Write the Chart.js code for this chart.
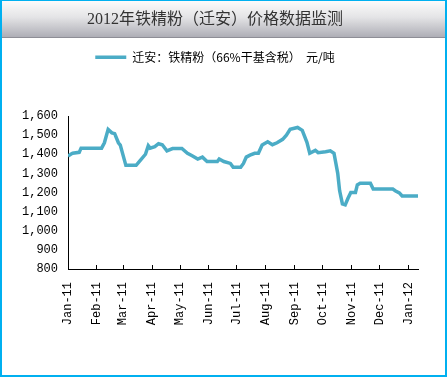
<!DOCTYPE html>
<html>
<head>
<meta charset="utf-8">
<script src="https://cdn.jsdelivr.net/npm/chart.js@4.4.0/dist/chart.umd.min.js"></script>
<style>
  html, body { margin: 0; padding: 0; background: #fff; }
  #frame {
    width: 447px;
    height: 377px;
    box-sizing: border-box;
    border-style: solid;
    border-color: #00b0f0;
    border-width: 1px 2px 2px 2px;
    background: #fff;
  }
  canvas { display: block; }
</style>
</head>
<body>
<div id="frame">
  <canvas id="chart" width="443" height="374"></canvas>
</div>
<script>
const titleText = '2012年铁精粉（迁安）价格数据监测';
const seriesLabel = '迁安：铁精粉（66%干基含税）  元/吨';

// price readings (date, yuan/ton)
const priceDates = [
  '2011-01-01', '2011-01-04', '2011-01-06', '2011-01-13', '2011-01-15', '2011-02-06',
  '2011-02-09', '2011-02-13', '2011-02-17', '2011-02-20', '2011-02-24', '2011-02-26',
  '2011-03-04', '2011-03-15', '2011-03-19', '2011-03-25', '2011-03-28', '2011-03-30',
  '2011-04-04', '2011-04-08', '2011-04-12', '2011-04-17', '2011-04-23', '2011-05-03',
  '2011-05-09', '2011-05-14', '2011-05-20', '2011-05-25', '2011-05-30', '2011-06-10',
  '2011-06-12', '2011-06-17', '2011-06-24', '2011-06-27', '2011-07-05', '2011-07-08',
  '2011-07-11', '2011-07-15', '2011-07-20', '2011-07-24', '2011-07-28', '2011-08-03',
  '2011-08-08', '2011-08-13', '2011-08-19', '2011-08-23', '2011-08-27', '2011-09-04',
  '2011-09-09', '2011-09-14', '2011-09-17', '2011-09-23', '2011-09-26', '2011-10-04',
  '2011-10-09', '2011-10-13', '2011-10-17', '2011-10-19', '2011-10-22', '2011-10-25',
  '2011-10-28', '2011-10-31', '2011-11-05', '2011-11-07', '2011-11-10', '2011-11-21',
  '2011-11-24', '2011-12-15', '2011-12-18', '2011-12-22', '2011-12-25', '2012-01-11'
];
const priceValues = [
  1390, 1400, 1405, 1410, 1432, 1432,
  1460, 1530, 1512, 1508, 1460, 1448,
  1342, 1342, 1365, 1400, 1445, 1432,
  1440, 1455, 1450, 1418, 1430, 1430,
  1405, 1392, 1375, 1385, 1362, 1362,
  1375, 1362, 1352, 1332, 1332, 1352,
  1385, 1395, 1405, 1405, 1448, 1465,
  1450, 1460, 1478, 1500, 1530, 1540,
  1525, 1462, 1405, 1420, 1408, 1413,
  1418, 1405, 1300, 1210, 1140, 1135,
  1170, 1200, 1200, 1240, 1248, 1248,
  1218, 1218, 1208, 1198, 1182, 1182
];

const monthStarts = [
  '2011-01-01', '2011-02-01', '2011-03-01', '2011-04-01', '2011-05-01', '2011-06-01', '2011-07-01',
  '2011-08-01', '2011-09-01', '2011-10-01', '2011-11-01', '2011-12-01', '2012-01-01'
];
const monthLabels = [
  'Jan-11', 'Feb-11', 'Mar-11', 'Apr-11', 'May-11', 'Jun-11', 'Jul-11',
  'Aug-11', 'Sep-11', 'Oct-11', 'Nov-11', 'Dec-11', 'Jan-12'
];
const axisStart = '2011-01-01';
const axisEnd = '2012-01-11';
const yMin = 800, yMax = 1600, yStep = 100;

const lineColor = '#4BACC6';
const monoFont = '"Liberation Mono", "DejaVu Sans Mono", monospace';

// days since axisStart
function dayOf(s) {
  const [y, m, d] = s.split('-').map(Number);
  const [y0, m0, d0] = axisStart.split('-').map(Number);
  return (Date.UTC(y, m - 1, d) - Date.UTC(y0, m0 - 1, d0)) / 86400000;
}

const points = priceDates.map((d, i) => ({ x: dayOf(d), y: priceValues[i] }));
const monthTicks = monthStarts.map(dayOf);

// grey gradient band behind the title
const titleBand = {
  id: 'titleBand',
  beforeDraw(chart) {
    const ctx = chart.ctx;
    const h = 36;
    const g = ctx.createLinearGradient(0, 0, 0, h);
    g.addColorStop(0, '#fbfbfb');
    g.addColorStop(0.45, '#e4e4e6');
    g.addColorStop(1, '#aeaeb6');
    ctx.save();
    ctx.fillStyle = g;
    ctx.fillRect(0, 0, chart.width, h);
    ctx.fillStyle = '#8e8e96';
    ctx.fillRect(0, h, chart.width, 1);
    ctx.restore();
  }
};

new Chart(document.getElementById('chart'), {
  type: 'line',
  data: {
    datasets: [{
      label: seriesLabel,
      data: points,
      borderColor: lineColor,
      backgroundColor: lineColor,
      borderWidth: 3.5,
      pointRadius: 0,
      tension: 0,
      fill: false
    }]
  },
  options: {
    responsive: false,
    animation: false,
    devicePixelRatio: 1,
    layout: { padding: { left: 0, right: 17, top: 0, bottom: 0 } },
    plugins: {
      title: {
        display: true,
        text: titleText,
        color: '#333',
        font: { family: '"Liberation Serif", "Noto Sans CJK SC", serif', size: 16, weight: 'normal' },
        padding: { top: 9, bottom: 16 }
      },
      legend: {
        display: true,
        position: 'top',
        labels: {
          usePointStyle: true,
          pointStyle: 'line',
          pointStyleWidth: 31,
          padding: 6,
          color: '#000',
          font: { family: '"Noto Sans CJK SC", sans-serif', size: 12 }
        }
      },
      // empty spacer between legend and plot
      subtitle: {
        display: true,
        text: '',
        weight: 500,
        font: { size: 12 },
        padding: { top: 0, bottom: 28.4 }
      },
      tooltip: { enabled: false }
    },
    scales: {
      x: {
        type: 'linear',
        min: 0,
        max: dayOf(axisEnd),
        afterBuildTicks: (axis) => {
          axis.ticks = monthTicks.map(v => ({ value: v }));
        },
        afterFit: (axis) => {
          axis.height = 106;
          axis.paddingRight = 27;
        },
        border: { display: true, color: '#000', width: 1 },
        grid: { drawOnChartArea: false, drawTicks: true, tickLength: -4, color: '#000' },
        ticks: {
          autoSkip: false,
          minRotation: 90,
          maxRotation: 90,
          padding: 17,
          color: '#000',
          font: { family: monoFont, size: 12 },
          callback: (value, index) => monthLabels[index]
        }
      },
      y: {
        min: yMin,
        max: yMax,
        afterFit: (axis) => { axis.width = 66; },
        border: { display: true, color: '#000', width: 1 },
        grid: { display: false, drawTicks: false },
        ticks: {
          stepSize: yStep,
          padding: 10,
          color: '#000',
          font: { family: monoFont, size: 12 },
          callback: (value) => value.toLocaleString('en-US')
        }
      }
    }
  },
  plugins: [titleBand]
});
</script>
</body>
</html>
